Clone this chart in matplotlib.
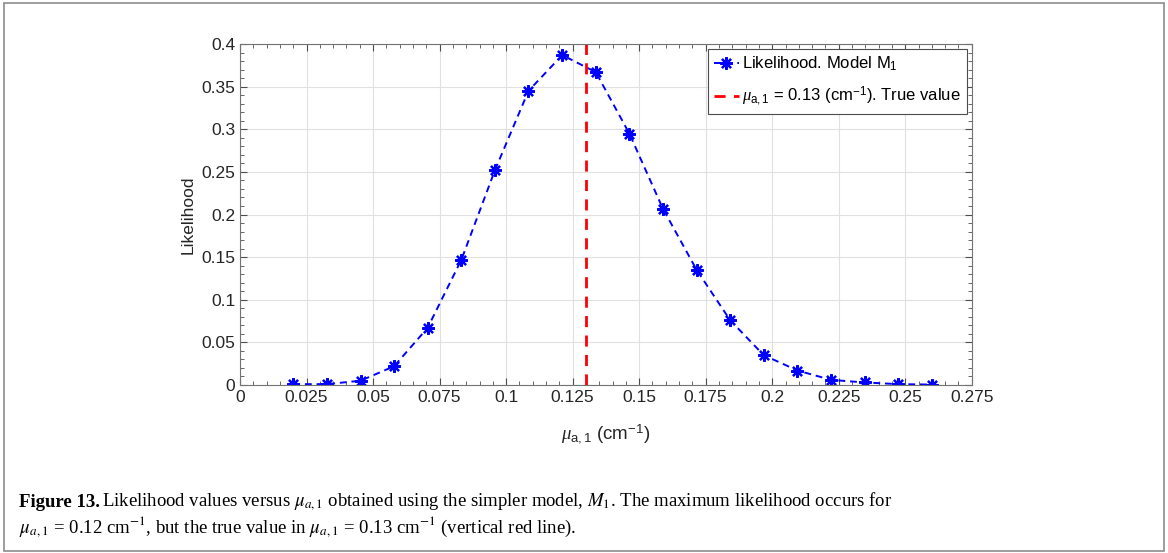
import numpy as np
import matplotlib.pyplot as plt
from matplotlib.ticker import MultipleLocator, FixedLocator
from matplotlib.patches import Rectangle

mu_a1 = [0.0200, 0.0326, 0.0453, 0.0579, 0.0705, 0.0832, 0.0958, 0.1084, 0.1211, 0.1337,
         0.1463, 0.1589, 0.1716, 0.1842, 0.1968, 0.2095, 0.2221, 0.2347, 0.2474, 0.2600]
likelihood = [0.001, 0.001, 0.005, 0.022, 0.067, 0.147, 0.252, 0.345, 0.387, 0.367,
              0.295, 0.207, 0.135, 0.076, 0.035, 0.017, 0.006, 0.003, 0.001, 0.0005]
true_value = 0.13

x_ticks = [0, 0.025, 0.05, 0.075, 0.1, 0.125, 0.15, 0.175, 0.2, 0.225, 0.25, 0.275]
x_ticklabels = ["0", "0.025", "0.05", "0.075", "0.1", "0.125", "0.15", "0.175", "0.2", "0.225", "0.25", "0.275"]
y_ticks = [0, 0.05, 0.1, 0.15, 0.2, 0.25, 0.3, 0.35, 0.4]
y_ticklabels = ["0", "0.05", "0.1", "0.15", "0.2", "0.25", "0.3", "0.35", "0.4"]

plt.rcParams.update({
    "font.family": "Liberation Sans",
    "font.size": 12,
    "mathtext.fontset": "custom",
    "mathtext.rm": "Liberation Sans",
    "mathtext.it": "Liberation Serif:italic",
})

fig = plt.figure(figsize=(11.68, 5.53), dpi=100)
fig.patches.append(Rectangle((0.003, 0.003), 0.994, 0.992, transform=fig.transFigure,
                             fill=False, edgecolor="0.55", linewidth=1.2))

ax = fig.add_axes([0.2055, 0.3038, 0.6265, 0.6166])

ax.plot(mu_a1, likelihood, linestyle="--", color="#0000ff", linewidth=1.4,
        marker=(8, 2, 0), markersize=9, markeredgewidth=1.6,
        label=r"Likelihood. Model M$_1$", dashes=(3.5, 2.5))
ax.axvline(true_value, color="#ff0000", linestyle="--", linewidth=2.0, dashes=(4, 3),
           label=r"$\mu_{\mathrm{a,1}}$ = 0.13 (cm$^{-1}$). True value")

ax.set_xlim(0, 0.275)
ax.set_ylim(0, 0.4)
ax.xaxis.set_major_locator(FixedLocator(x_ticks))
ax.set_xticklabels(x_ticklabels)
ax.yaxis.set_major_locator(FixedLocator(y_ticks))
ax.set_yticklabels(y_ticklabels)
ax.xaxis.set_minor_locator(MultipleLocator(0.005))
ax.yaxis.set_minor_locator(MultipleLocator(0.01))
ax.tick_params(which="both", direction="in", top=True, right=True, colors="0.3",
               labelcolor="0.15", labelsize=12.5)
ax.tick_params(which="major", length=5)
ax.tick_params(which="minor", length=3)
ax.grid(which="major", color="0.88", linewidth=0.8)
ax.set_axisbelow(True)
for s in ax.spines.values():
    s.set_color("0.45")

ax.set_ylabel("Likelihood", fontsize=12.5, color="0.15")
ax.set_xlabel(r"$\mu_{\mathrm{a,1}}$ (cm$^{-1}$)", fontsize=13.5, color="0.15", labelpad=12)

leg = ax.legend(loc="upper right", fontsize=12, handlelength=1.5, handletextpad=0.2,
                borderpad=0.35, labelspacing=0.7, fancybox=False, framealpha=1,
                borderaxespad=0.3)
leg.get_frame().set_edgecolor("0.3")
leg.get_frame().set_linewidth(0.8)

serif = "Liberation Serif"
head = fig.text(0.016, 0.084, "Figure 13.", fontsize=13.5, fontweight="bold", family=serif)
fig.canvas.draw()
bb = head.get_window_extent().transformed(fig.transFigure.inverted())
fig.text(bb.x1 + 0.002, 0.084,
         r"Likelihood values versus $\mu_{a,1}$ obtained using the simpler model, $M_1$. "
         r"The maximum likelihood occurs for",
         fontsize=13.5, family=serif, math_fontfamily="stix")
fig.text(0.016, 0.036,
         r"$\mu_{a,1}$ = 0.12 cm$^{-1}$, but the true value in $\mu_{a,1}$ = 0.13 cm$^{-1}$ "
         r"(vertical red line).",
         fontsize=13.5, family=serif, math_fontfamily="stix")

fig.savefig("out.png", dpi=100)
